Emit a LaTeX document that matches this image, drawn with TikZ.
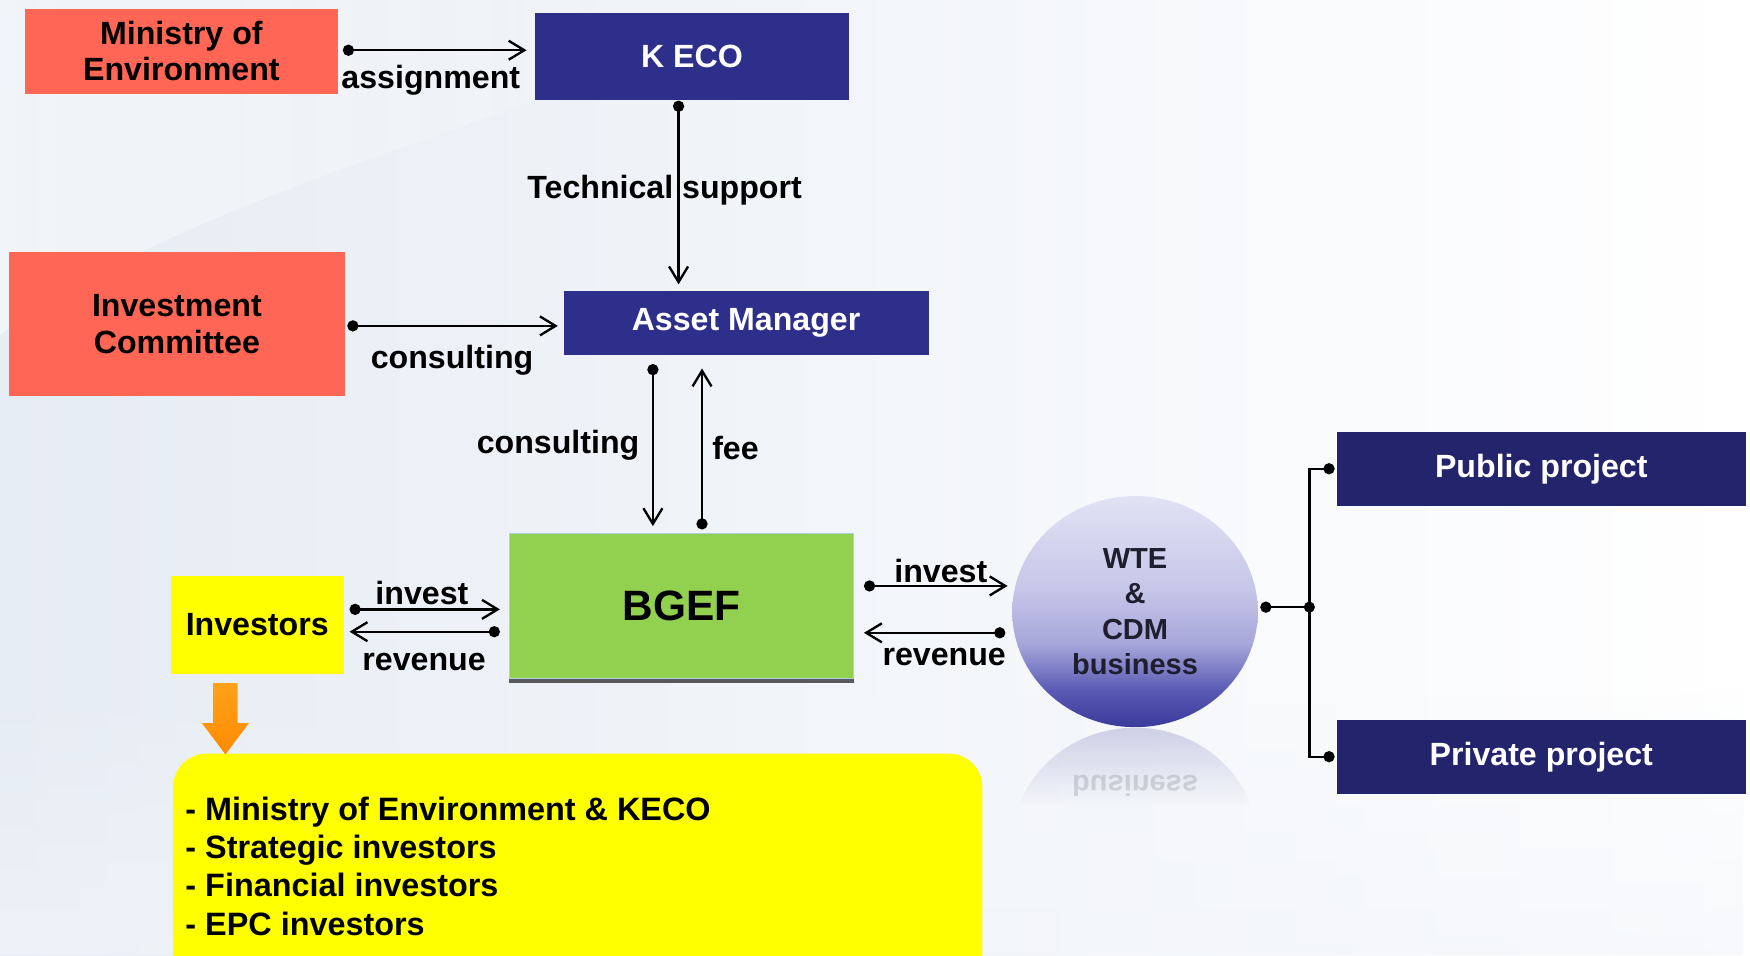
\documentclass[tikz,border=0pt]{standalone}
\usepackage{fontspec}
\usepackage{graphicx}
\setmainfont{Liberation Sans}
\usetikzlibrary{arrows.meta,shapes.geometric,fadings,calc}
\definecolor{salmon}{HTML}{FF6655}
\definecolor{kblue}{HTML}{2E2E8B}
\definecolor{navy}{HTML}{24246C}
\definecolor{bgefgreen}{HTML}{92D050}
\definecolor{bgefedge}{HTML}{A8D0E0}
\definecolor{yel}{HTML}{FFFF00}
\definecolor{orngA}{HTML}{FFA21A}
\definecolor{orngB}{HTML}{FF8A00}
\definecolor{wtetext}{HTML}{1E1E2E}
\definecolor{bgA}{HTML}{E6ECF4}
\definecolor{bgB}{HTML}{F2F5FA}
\definecolor{balldark}{HTML}{3A3A9A}
\definecolor{ballB}{HTML}{5A5AB4}
\definecolor{ballC}{HTML}{A6A6DA}
\definecolor{ballD}{HTML}{C6C6E9}
\definecolor{balltop}{HTML}{E2E2F4}
\definecolor{ballref}{HTML}{A0A0D0}
\pgfdeclareverticalshading{ball}{100bp}{color(0bp)=(balldark); color(25bp)=(balldark); color(33bp)=(ballB); color(43bp)=(ballC); color(55bp)=(ballD); color(75bp)=(balltop); color(100bp)=(balltop)}
\begin{document}
\begin{tikzpicture}[x=1pt,y=-1pt,
  font=\fontsize{28.8}{32.5}\selectfont\bfseries,
  box/.style={rectangle, inner sep=0pt, align=center},
  lbl/.style={inner sep=0pt},
  conn/.style={line width=2.1pt, {Circle[length=10pt]}-{Straight Barb[length=14pt,width=17pt]}},
  branch/.style={line width=2.1pt}]
\useasboundingbox (0,0) rectangle (1568,856);
\clip (0,0) rectangle (1568,856);
% background
\shade[left color=bgA, right color=white] (0,0) rectangle (1568,856);
\fill[white, opacity=0.45, path fading=east] (0,0) -- (700,0) .. controls (450,120) and (200,160) .. (0,300) -- cycle;
\fill[bgB, opacity=0.6, path fading=north] (0,640) .. controls (500,600) and (1000,640) .. (1568,620) -- (1568,856) -- (0,856) -- cycle;
% reflection of ball
\begin{scope}
\clip (1017,756) ellipse (110pt and 104pt);
\fill[ballref, opacity=0.45, path fading=south] (900,652) rectangle (1135,722);
\end{scope}
\node[lbl, opacity=0.15, text=wtetext, font=\fontsize{26}{30}\selectfont\bfseries] (refl) at (1017,704) {\scalebox{1}[-1]{business}};
% boxes
\node[box, fill=salmon, minimum width=281pt, minimum height=76pt] (mini) at (162.5,46) {Ministry of\\Environment};
\node[box, fill=kblue, text=white, minimum width=282pt, minimum height=78pt] (keco) at (620,51) {K ECO};
\node[box, fill=salmon, minimum width=301pt, minimum height=129pt] (ic) at (158.5,290.5) {Investment\\Committee};
\node[box, fill=kblue, text=white, minimum width=327pt, minimum height=57pt] (am) at (668.5,289.5) {\raisebox{-1.5pt}{Asset Manager}};
\fill[black!65] (456,482) rectangle (765,612);
\node[box, fill=bgefgreen, draw=bgefedge, line width=1.2pt, minimum width=308pt, minimum height=130pt, font=\fontsize{38}{40}\selectfont\bfseries] (bgef) at (610.5,543) {BGEF};
\node[box, fill=yel, minimum width=155pt, minimum height=88pt] (inv) at (230.5,560) {\raisebox{-2.5pt}{Investors}};
\node[ellipse, shading=ball, minimum width=220pt, minimum height=207pt, inner sep=0pt, align=center, text=wtetext, font=\fontsize{26}{31.5}\selectfont\bfseries] (wte) at (1017,548) {WTE\\\&\\CDM\\business};
\node[box, fill=navy, text=white, minimum width=366pt, minimum height=66pt] (pub) at (1381,420) {\raisebox{-2pt}{Public project}};
\node[box, fill=navy, text=white, minimum width=366pt, minimum height=66pt] (priv) at (1381,678) {\raisebox{-2pt}{Private project}};
\node[fill=yel, rounded corners=30pt, minimum width=725pt, minimum height=230pt, anchor=north west, inner sep=0pt] (list) at (155,675) {};
\node[lbl, anchor=west, align=left, font=\fontsize{29}{34.3}\selectfont\bfseries] (listtxt) at (166,776) {- Ministry of Environment \& KECO\\- Strategic investors\\- Financial investors\\- EPC investors};
% orange arrow
\shade[top color=orngA, bottom color=orngB] (191,612) -- (213,612) -- (213,648) -- (223,648) -- (202,676) -- (181,648) -- (191,648) -- cycle;
% labels
\node[lbl] (lassign) at (386,72) {assignment};
\node[lbl] (ltech) at (595.5,170) {Technical support};
\node[lbl] (lcons1) at (405,323) {consulting};
\node[lbl] (lcons2) at (500,399) {consulting};
\node[lbl] (lfee) at (659,401) {fee};
\node[lbl] (linv1) at (378,531) {invest};
\node[lbl] (lrev1) at (380,593) {revenue};
\node[lbl] (linv2) at (843,512) {invest};
\node[lbl] (lrev2) at (846,589) {revenue};
% connectors
\draw[conn] ($(mini.east)+(4,-1)$) -- ($(keco.west |- mini.east)+(-7,-1)$);
\draw[conn] ($(keco.south)+(-12,0)$) -- ($(am.north -| keco.south)+(-12,-6)$);
\draw[conn] ($(ic.east)+(2,1.5)$) -- ($(am.west |- ic.east)+(-5,1.5)$);
\draw[conn] ($(am.south)+(-83.5,8)$) -- ($(bgef.north)+(-25.5,-6)$);
\draw[conn] ($(bgef.north)+(18.5,-3)$) -- ($(am.south)+(-39.5,12)$);
\draw[conn] ($(inv.east)+(5,-14)$) -- ($(bgef.west |- inv.east)+(-8,-14)$);
\draw[conn] ($(bgef.west |- inv.east)+(-8,6)$) -- ($(inv.east)+(5,6)$);
\draw[conn] ($(bgef.east)+(9,-18)$) -- ($(wte.west |- bgef.east)+(-4,-18)$);
\draw[conn] ($(wte.west |- bgef.east)+(-6,24)$) -- ($(bgef.east)+(9,24)$);
\coordinate (j) at ($(wte.east)+(46,-4)$);
\draw[branch, {Circle[length=10pt]}-] ($(wte.east)+(2,-4)$) -- (j);
\fill (j) circle (5pt);
\draw[branch, {Circle[length=10pt]}-{Circle[length=10pt]}] ($(pub.west)+(-2,0)$) -| (j) |- ($(priv.west)+(-2,0)$);
\end{tikzpicture}
\end{document}
